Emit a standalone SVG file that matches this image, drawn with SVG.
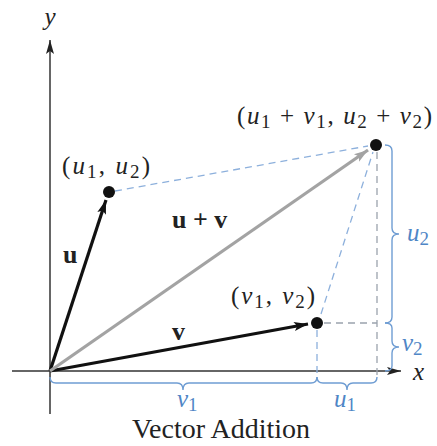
<svg xmlns="http://www.w3.org/2000/svg" width="437" height="446" viewBox="0 0 437 446">
<defs>
<marker id="ahBlack" markerUnits="userSpaceOnUse" markerWidth="16" markerHeight="12" refX="14" refY="6" orient="auto">
<path d="M0,1.5 L14,6 L0,10.5 L3,6 Z" fill="#111"/>
</marker>
<marker id="ahGray" markerUnits="userSpaceOnUse" markerWidth="16" markerHeight="12" refX="14" refY="6" orient="auto">
<path d="M0,1.5 L14,6 L0,10.5 L3,6 Z" fill="#a3a3a3"/>
</marker>
<marker id="ahAxis" markerUnits="userSpaceOnUse" markerWidth="16" markerHeight="12" refX="14" refY="6" orient="auto">
<path d="M0,2 L14,6 L0,10 L3,6 Z" fill="#222"/>
</marker>
</defs>
<style>
.axis{stroke:#333;stroke-width:1.5;fill:none}
.vec{stroke:#111;stroke-width:3.2;fill:none}
.sum{stroke:#a3a3a3;stroke-width:3.2;fill:none}
.dashB{stroke:#8db0dc;stroke-width:1.3;stroke-dasharray:7 5;fill:none}
.dashG{stroke:#9ba3ad;stroke-width:1.3;stroke-dasharray:7 5;fill:none}
.brace{stroke:#6f9dd3;stroke-width:1.4;fill:none}
.lbl{font-family:"Liberation Serif","Times New Roman",serif;font-size:25px;fill:#222}
.it{font-style:italic}
.bold{font-family:"Liberation Serif","Times New Roman",serif;font-weight:bold;font-size:26px;fill:#222}
.blue{font-family:"Liberation Serif","Times New Roman",serif;font-style:italic;font-size:25px;fill:#4f86c6}
.sub{font-size:19px;font-style:normal}
.title{font-family:"Liberation Serif","Times New Roman",serif;font-size:28px;fill:#222}
</style>
<g id="axes">
<line class="axis" x1="50" y1="414" x2="50" y2="40" marker-end="url(#ahAxis)"/>
<line class="axis" x1="12" y1="371" x2="401" y2="371" marker-end="url(#ahAxis)"/>
<text class="lbl it" x="50" y="25" text-anchor="middle">y</text>
<text class="lbl it" x="413" y="380">x</text>
</g>
<g id="connectors">
<line class="dashB" x1="115" y1="191" x2="368" y2="146"/>
<line class="dashB" x1="321" y1="314" x2="373" y2="152"/>
<line class="dashB" x1="317" y1="330" x2="317" y2="380"/>
<line class="dashG" x1="324" y1="323" x2="377" y2="323"/>
<line class="dashG" x1="377" y1="152" x2="377" y2="380"/>
<line class="vec" x1="50" y1="371" x2="106" y2="200" marker-end="url(#ahBlack)"/>
<line class="vec" x1="50" y1="371" x2="308" y2="324" marker-end="url(#ahBlack)"/>
<line class="sum" x1="50" y1="371" x2="368" y2="150" marker-end="url(#ahGray)"/>
</g>
<g id="point-u">
<circle cx="109" cy="192" r="6" fill="#111"/>
<text class="lbl" x="62" y="174" textLength="88" lengthAdjust="spacing">(<tspan class="it">u</tspan><tspan class="sub" dy="4">1</tspan><tspan dy="-4">, </tspan><tspan class="it">u</tspan><tspan class="sub" dy="4">2</tspan><tspan dy="-4">)</tspan></text>
</g>
<g id="point-v">
<circle cx="317" cy="323" r="6" fill="#111"/>
<text class="lbl" x="231" y="304" textLength="84" lengthAdjust="spacing">(<tspan class="it">v</tspan><tspan class="sub" dy="4">1</tspan><tspan dy="-4">, </tspan><tspan class="it">v</tspan><tspan class="sub" dy="4">2</tspan><tspan dy="-4">)</tspan></text>
</g>
<g id="point-sum">
<circle cx="376" cy="145" r="6" fill="#111"/>
<text class="lbl" x="237" y="124" textLength="195" lengthAdjust="spacing">(<tspan class="it">u</tspan><tspan class="sub" dy="4">1</tspan><tspan dy="-4"> + </tspan><tspan class="it">v</tspan><tspan class="sub" dy="4">1</tspan><tspan dy="-4">, </tspan><tspan class="it">u</tspan><tspan class="sub" dy="4">2</tspan><tspan dy="-4"> + </tspan><tspan class="it">v</tspan><tspan class="sub" dy="4">2</tspan><tspan dy="-4">)</tspan></text>
</g>
<g id="vector-labels">
<text class="bold" x="63" y="263">u</text>
<text class="bold" x="172" y="340">v</text>
<text class="bold" x="172" y="228">u + v</text>
</g>
<g id="brace-u2">
<path class="brace" d="M385,145 Q392,145 392,151 L392,228 Q392,234 399,234 Q392,234 392,240 L392,317 Q392,323 385,323"/>
<text class="blue" x="407" y="241">u<tspan class="sub" dy="4">2</tspan></text>
</g>
<g id="brace-v2">
<path class="brace" d="M385,323 Q392,323 392,328 L392,341 Q392,347 399,347 Q392,347 392,353 L392,366 Q392,371 385,371"/>
<text class="blue" x="402" y="351">v<tspan class="sub" dy="4">2</tspan></text>
</g>
<g id="brace-v1">
<path class="brace" d="M50,377 Q50,383 56,383 L177,383 Q183,383 183,390 Q183,383 189,383 L311,383 Q317,383 317,377"/>
<text class="blue" x="177" y="407">v<tspan class="sub" dy="4">1</tspan></text>
</g>
<g id="brace-u1">
<path class="brace" d="M317,377 Q317,383 323,383 L341,383 Q347,383 347,390 Q347,383 353,383 L371,383 Q377,383 377,377"/>
<text class="blue" x="334" y="407">u<tspan class="sub" dy="4">1</tspan></text>
</g>
<g id="title">
<text class="title" x="221" y="438" text-anchor="middle">Vector Addition</text>
</g>
</svg>
